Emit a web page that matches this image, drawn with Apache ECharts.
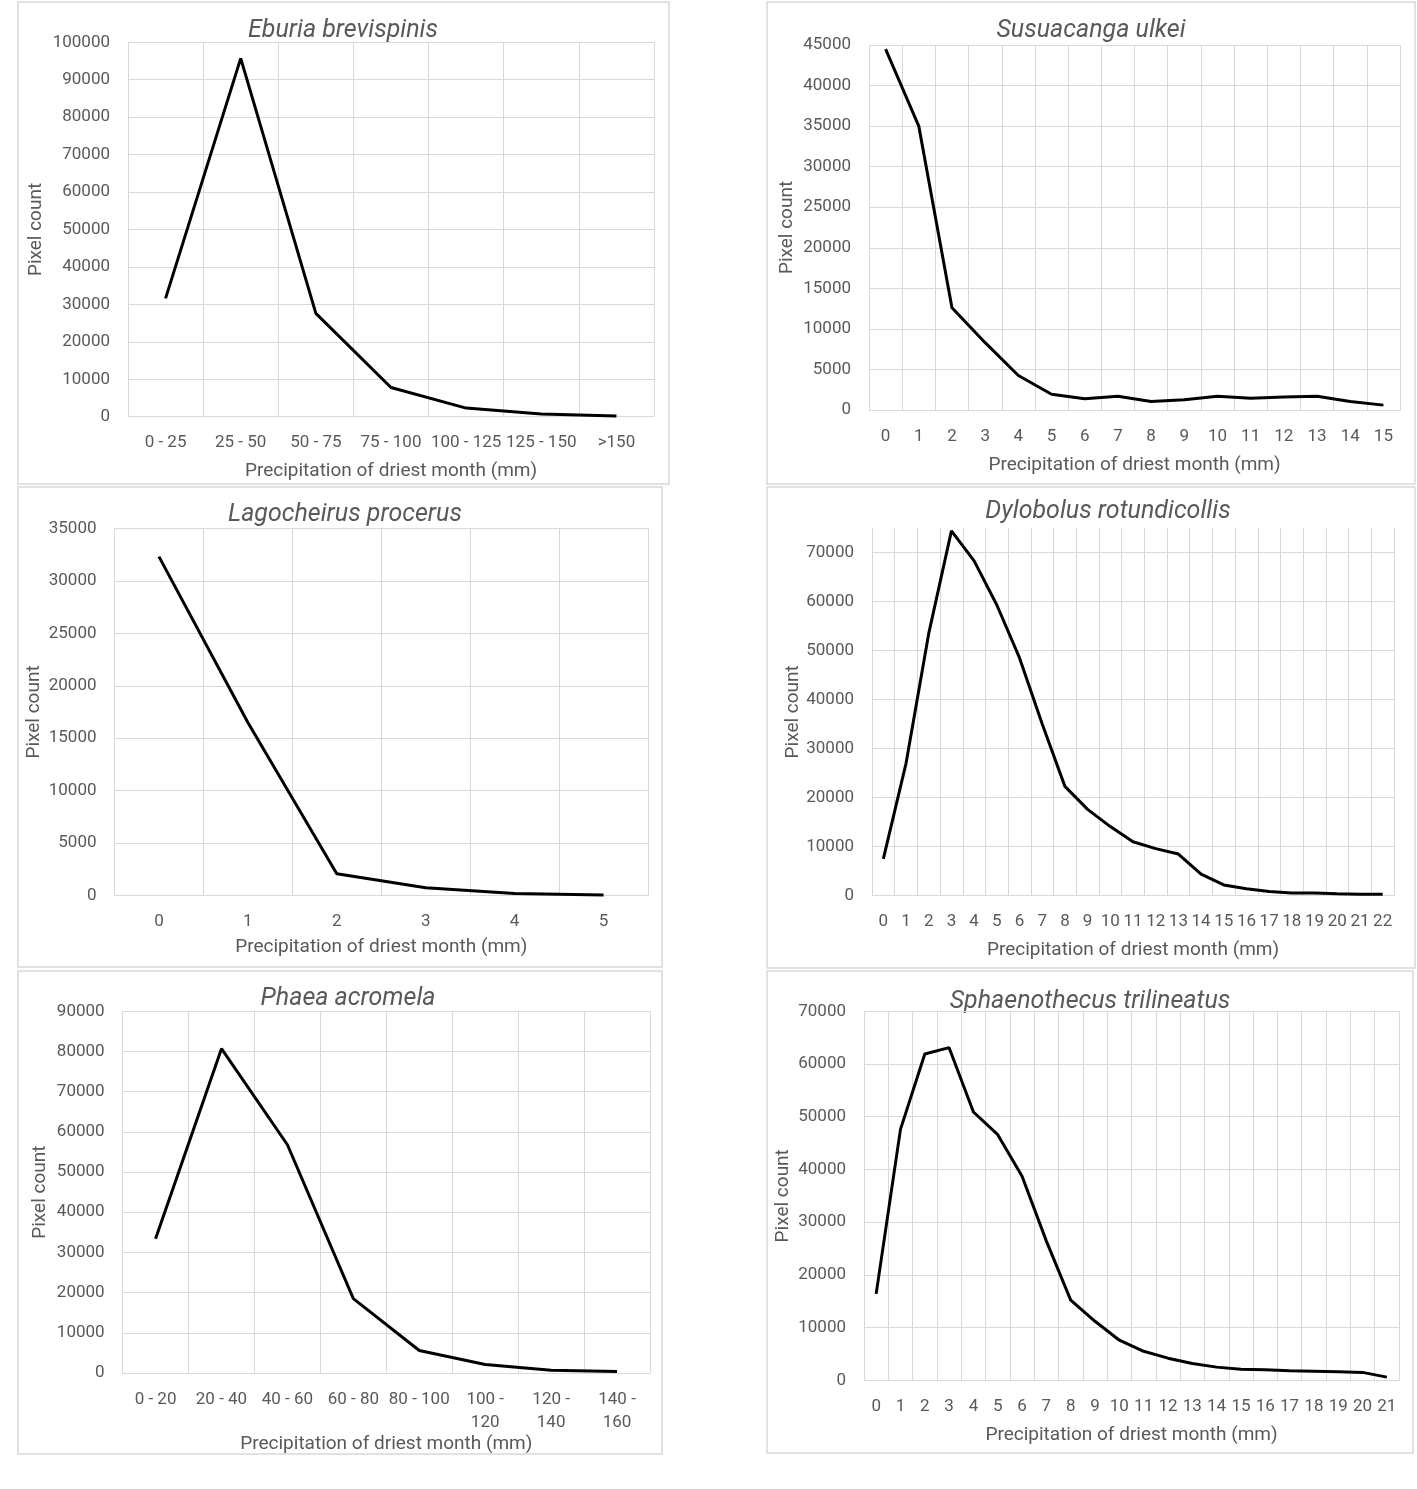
<!DOCTYPE html>
<html>
<head>
<meta charset="utf-8">
<script src="https://cdn.jsdelivr.net/npm/echarts@6/dist/echarts.min.js"></script>
<style>
html,body{margin:0;padding:0;background:#fff;}
#c{width:1417px;height:1489px;}
</style>
</head>
<body>
<div id="c"></div>
<script>
// ---- Data ----
const eburiaCats = ["0 - 25","25 - 50","50 - 75","75 - 100","100 - 125","125 - 150",">150"];
const eburiaVals = [31600, 95700, 27600, 7800, 2300, 700, 200];

const susuCats = ["0","1","2","3","4","5","6","7","8","9","10","11","12","13","14","15"];
const susuVals = [44500, 35000, 12600, 8300, 4250, 1950, 1400, 1700, 1050, 1250, 1700, 1450, 1600, 1700, 1050, 600];

const lagoCats = ["0","1","2","3","4","5"];
const lagoVals = [32300, 16500, 2100, 760, 220, 60];

const dyloCats = ["0","1","2","3","4","5","6","7","8","9","10","11","12","13","14","15","16","17","18","19","20","21","22"];
const dyloVals = [7500, 27000, 53500, 74400, 68300, 59300, 48500, 35000, 22300, 17600, 14100, 11000, 9600, 8500, 4400, 2200, 1400, 850, 550, 550, 400, 280, 280];

const phaeaCats = ["0 - 20","20 - 40","40 - 60","60 - 80","80 - 100","100 - 120","120 - 140","140 - 160"];
const phaeaVals = [33400, 80700, 56800, 18500, 5600, 2100, 700, 400];

const sphaCats = ["0","1","2","3","4","5","6","7","8","9","10","11","12","13","14","15","16","17","18","19","20","21"];
const sphaVals = [16400, 47600, 61900, 63100, 50900, 46600, 38700, 26400, 15200, 11200, 7600, 5500, 4200, 3200, 2500, 2100, 2000, 1800, 1700, 1600, 1500, 600];

const titles = ["Eburia brevispinis","Susuacanga ulkei","Lagocheirus procerus","Dylobolus rotundicollis","Phaea acromela","Sphaenothecus trilineatus"];
const yName = "Pixel count";
const xName = "Precipitation of driest month (mm)";

// ---- Layout ----
const panels = [
  {cats: eburiaCats, vals: eburiaVals, max: 100000, interval: 10000, wrap: false,
   grid: {left:128, top:42.3, width:526, height:374.4}, box:[18,2,651,482], title:[343,31], yGap:82, xGap:45},
  {cats: susuCats, vals: susuVals, max: 45000, interval: 5000, wrap: false,
   grid: {left:869, top:45, width:531, height:365}, box:[767,2,648,482], title:[1091,31], yGap:72, xGap:46},
  {cats: lagoCats, vals: lagoVals, max: 35000, interval: 5000, wrap: false,
   grid: {left:114.5, top:528.3, width:533.5, height:367.4}, box:[18,487,644,480], title:[345,515], yGap:71, xGap:42},
  {cats: dyloCats, vals: dyloVals, max: 75000, interval: 10000, wrap: false,
   grid: {left:872, top:528, width:522, height:367.7}, box:[767,487,648,481], title:[1108,512], yGap:69, xGap:45},
  {cats: phaeaCats, vals: phaeaVals, max: 90000, interval: 10000, wrap: true,
   grid: {left:122.6, top:1011.3, width:527.4, height:361.7}, box:[18,971,644,483], title:[348,999], yGap:73, xGap:57},
  {cats: sphaCats, vals: sphaVals, max: 70000, interval: 10000, wrap: false,
   grid: {left:864, top:1011.3, width:535, height:369}, box:[767,971,646,482], title:[1090,1002], yGap:71, xGap:45}
];

const FONT = "Roboto, 'Liberation Sans', sans-serif";
const TXT = "#595959";
const GRID = "#d9d9d9";

const option = {
  backgroundColor: "#fff",
  animation: false,
  title: [], grid: [], xAxis: [], yAxis: [], series: [], graphic: []
};

panels.forEach((p, i) => {
  option.graphic.push({
    type: "rect", silent: true, z: -10,
    shape: {x: p.box[0], y: p.box[1], width: p.box[2], height: p.box[3]},
    style: {fill: "#fff", stroke: "#d9d9d9", lineWidth: 1.5}
  });
  option.graphic.push({
    type: "text", silent: true,
    x: p.title[0], y: p.title[1],
    style: {text: titles[i], fill: TXT, font: "italic 25px " + FONT, textAlign: "center", textVerticalAlign: "middle"}
  });
  option.grid.push(Object.assign({containLabel: false}, p.grid));
  option.xAxis.push({
    type: "category", gridIndex: i, data: p.cats, boundaryGap: true,
    name: xName, nameLocation: "middle", nameGap: p.xGap,
    nameTextStyle: {color: TXT, fontSize: 19, fontFamily: FONT},
    axisLine: {show: true, lineStyle: {color: GRID, width: 1}},
    axisTick: {show: false},
    axisLabel: {color: TXT, fontSize: 17, fontFamily: FONT, margin: 15, interval: 0,
      formatter: v => (p.wrap && v.length > 8) ? v.replace(" - ", " -\n") : v, lineHeight: 23},
    splitLine: {show: true, interval: 0, lineStyle: {color: GRID, width: 1}}
  });
  option.yAxis.push({
    type: "value", gridIndex: i, min: 0, max: p.max, interval: p.interval,
    name: yName, nameLocation: "middle", nameGap: p.yGap,
    nameTextStyle: {color: TXT, fontSize: 19, fontFamily: FONT},
    axisLine: {show: false}, axisTick: {show: false},
    axisLabel: {color: TXT, fontSize: 17, fontFamily: FONT, margin: 18,
      formatter: v => String(v),
      showMaxLabel: (p.max % p.interval === 0)},
    splitLine: {show: true, showMaxLine: (p.max % p.interval === 0), lineStyle: {color: GRID, width: 1}}
  });
  option.series.push({
    type: "line", xAxisIndex: i, yAxisIndex: i, data: p.vals,
    showSymbol: false, symbol: "none",
    lineStyle: {color: "#000", width: 3}, itemStyle: {color: "#000"}
  });
});

const chart = echarts.init(document.getElementById("c"), null, {renderer: "canvas"});
chart.setOption(option);
</script>
</body>
</html>
